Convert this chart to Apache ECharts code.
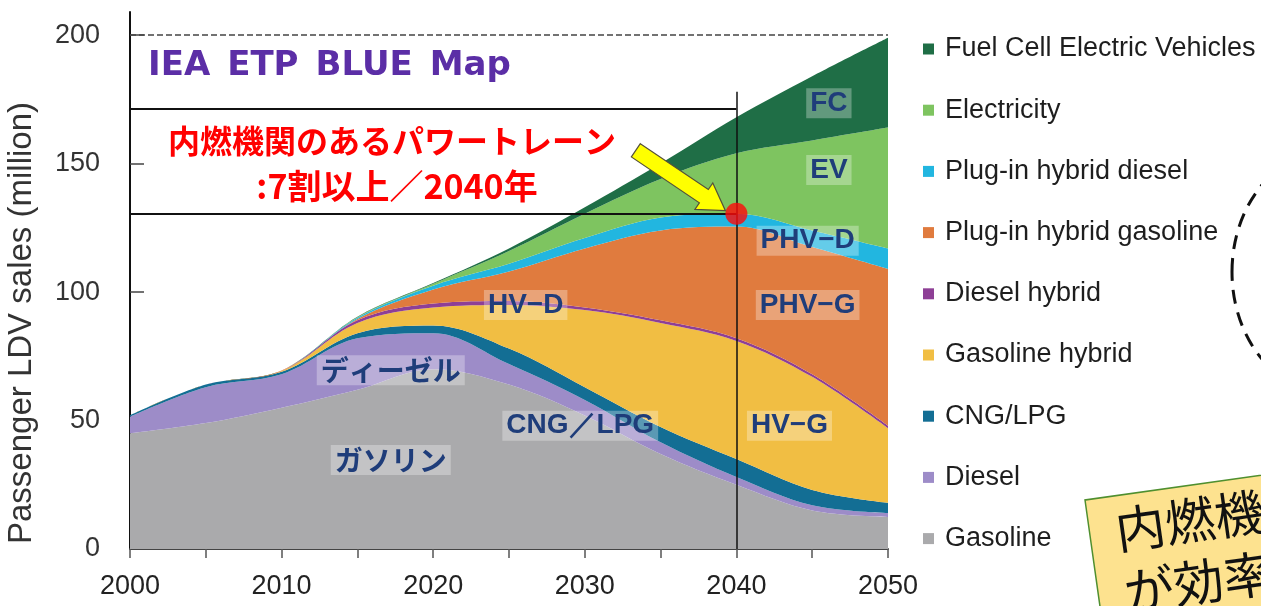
<!DOCTYPE html>
<html>
<head>
<meta charset="utf-8">
<script src="https://cdn.jsdelivr.net/npm/echarts@6/dist/echarts.min.js"></script>
<style>
  html, body { margin: 0; padding: 0; background: #ffffff; }
  #chart { width: 1261px; height: 606px; }
</style>
</head>
<body>
<div id="chart"></div>
<script>
// Passenger LDV sales by powertrain (million), IEA ETP BLUE Map scenario
const years = ['2000', '2005', '2010', '2015', '2020', '2025', '2030', '2035', '2040', '2045', '2050'];
const gasoline       = [45, 49, 55, 62, 70, 64, 52, 37, 25, 15, 12.5];
const diesel         = [6.5, 14, 13, 20, 14, 8, 6, 4.5, 3, 2, 1.5];
const cngLpg         = [0.5, 1, 1, 2, 3, 6, 5, 6, 7, 6, 4];
const gasolineHybrid = [0, 0, 0.3, 4, 7, 17, 30, 40.5, 46, 44, 29];
const dieselHybrid   = [0, 0, 0, 1, 1.5, 1.5, 1, 1, 1, 1, 1];
const phvGasoline    = [0, 0, 0.2, 0.5, 5.5, 11.5, 23, 35, 43.5, 49.5, 61];
const phvDiesel      = [0, 0, 0, 0.5, 1.5, 3, 4, 5, 5, 6.5, 8];
const electricity    = [0, 0, 0, 0.2, 0.7, 5, 9.5, 15, 23.5, 35, 47];
const fuelCell       = [0, 0, 0, 0.2, 0.3, 1, 2.5, 6, 14, 25, 35];

const yTicks = [0, 50, 100, 150, 200];

// series listed bottom-to-top of the stack
const layers = [
  { name: 'Gasoline',                    values: gasoline,       color: '#aaaaac' },
  { name: 'Diesel',                      values: diesel,         color: '#9d8cc8' },
  { name: 'CNG/LPG',                     values: cngLpg,         color: '#136e94' },
  { name: 'Gasoline hybrid',             values: gasolineHybrid, color: '#f1be43' },
  { name: 'Diesel hybrid',               values: dieselHybrid,   color: '#8e3f96' },
  { name: 'Plug-in hybrid gasoline',     values: phvGasoline,    color: '#e07b3e' },
  { name: 'Plug-in hybrid diesel',       values: phvDiesel,      color: '#22b6e0' },
  { name: 'Electricity',                 values: electricity,    color: '#7ec460' },
  { name: 'Fuel Cell Electric Vehicles', values: fuelCell,       color: '#1f6e46' }
];
const legendOrder = layers.map(l => l.name).reverse();

// 2040 share marker sits on top of the plug-in hybrid diesel layer
const markYear = '2040';
const mi = years.indexOf(markYear);
const markValue = layers.slice(0, 7).reduce((s, l) => s + l.values[mi], 0);

// reference frame lines of the annotation
const frameTop = 171.5;
const guideTop = 178;

// area tags: [text, year, value, isJapanese]
const tags = [
  ['FC', 2046.1, 173.5, false],
  ['EV', 2046.1, 147.5, false],
  ['PHV\u2212D', 2044.7, 120, false],
  ['PHV\u2212G', 2044.7, 95, false],
  ['HV\u2212D', 2026.1, 95, false],
  ['ディーゼル', 2017.2, 69.6, true],
  ['CNG\uFF0FLPG', 2029.7, 48, false],
  ['HV\u2212G', 2043.5, 48, false],
  ['ガソリン', 2017.2, 34.6, true]
];

const chart = echarts.init(document.getElementById('chart'), null, { renderer: 'canvas' });

const series = layers.map(l => ({
  name: l.name,
  type: 'line',
  stack: 'total',
  smooth: 0.35,
  symbol: 'none',
  lineStyle: { width: 0 },
  itemStyle: { color: l.color },
  areaStyle: { color: l.color, opacity: 1 },
  data: l.values
}));

series.push({
  name: 'guides',
  type: 'line',
  data: [],
  silent: true,
  markLine: {
    silent: true,
    symbol: 'none',
    label: { show: false },
    lineStyle: { color: '#111', width: 2, type: 'solid' },
    data: [
      [{ coord: ['2000', 200], lineStyle: { type: 'dashed', color: '#444', width: 1.5 } }, { coord: ['2050', 200] }],
      [{ coord: ['2000', frameTop] }, { coord: [markYear, frameTop] }],
      [{ coord: ['2000', markValue] }, { coord: [markYear, markValue] }],
      [{ coord: [markYear, 0], lineStyle: { width: 1.5 } }, { coord: [markYear, guideTop] }]
    ]
  }
});

series.push({
  name: 'mark',
  type: 'scatter',
  z: 10,
  symbolSize: 22,
  itemStyle: { color: '#ff0a0a' },
  data: [[markYear, markValue]]
});

chart.setOption({
  animation: false,
  backgroundColor: '#ffffff',
  grid: { left: 130, right: 373, top: 12, bottom: 57, containLabel: false },
  legend: {
    data: legendOrder,
    orient: 'vertical',
    left: 918,
    top: 29,
    icon: 'rect',
    itemWidth: 11,
    itemHeight: 11,
    itemGap: 31.2,
    selectedMode: false,
    textStyle: { fontFamily: 'Liberation Sans', fontSize: 27, color: '#1e1e1e', lineHeight: 30, padding: [0, 0, 0, 6] }
  },
  xAxis: {
    type: 'category',
    data: years,
    boundaryGap: false,
    axisLine: { show: true, lineStyle: { color: '#444', width: 2 } },
    axisTick: { show: true, interval: 0, length: 9, lineStyle: { color: '#555', width: 1.5 } },
    axisLabel: { interval: 1, fontFamily: 'Liberation Sans', fontSize: 27, color: '#222', margin: 24 },
    splitLine: { show: false }
  },
  yAxis: {
    type: 'value',
    min: 0,
    max: 209,
    interval: 50,
    axisLine: { show: true, lineStyle: { color: '#111', width: 2 } },
    axisTick: { show: true, inside: true, length: 14, customValues: yTicks, lineStyle: { color: '#444', width: 1.5 } },
    axisLabel: { customValues: yTicks, fontFamily: 'Liberation Sans', fontSize: 27, color: '#333', margin: 30 },
    splitLine: { show: false }
  },
  series: series
});

// pixel position for a (possibly fractional) year and a value
const x0 = chart.convertToPixel({ gridIndex: 0 }, [years[0], 0]);
const x1 = chart.convertToPixel({ gridIndex: 0 }, [years[years.length - 1], 0]);
function px(year, v) {
  const t = (year - Number(years[0])) / (Number(years[years.length - 1]) - Number(years[0]));
  const y = chart.convertToPixel({ gridIndex: 0 }, [years[0], v])[1];
  return [x0[0] + t * (x1[0] - x0[0]), y];
}

const graphics = [];

// axis title
graphics.push({
  type: 'text', x: 22, y: 323, rotation: Math.PI / 2,
  style: { text: 'Passenger LDV sales (million)', font: '33px "Liberation Sans"', fill: '#333', align: 'center', verticalAlign: 'middle' }
});

// scenario title (en spaces give the wider word gaps)
graphics.push({
  type: 'text', x: 148, y: 66,
  style: { text: 'IEA\u2002ETP\u2002BLUE\u2002Map', font: 'bold 34px "DejaVu Sans"', fill: '#5b2ea6', align: 'left', verticalAlign: 'middle', letterSpacing: 5 }
});

// red callout
graphics.push({
  type: 'text', x: 392, y: 141,
  style: { text: '内燃機関のあるパワートレーン', font: 'bold 32px "Noto Sans CJK JP"', fill: '#ff0000', align: 'center', verticalAlign: 'middle' }
});
graphics.push({
  type: 'text', x: 397, y: 186,
  style: { text: ':7割以上／2040年', font: 'bold 34px "Noto Sans CJK JP"', fill: '#ff0000', align: 'center', verticalAlign: 'middle', letterSpacing: 3 }
});

// yellow arrow pointing at the 2040 marker
const dot = chart.convertToPixel({ gridIndex: 0 }, [markYear, markValue]);
const ang = Math.atan2(60, 89);
const L = 108;
const tipX = dot[0] - 11, tipY = dot[1] - 3;
const tailX = tipX - L * Math.cos(ang), tailY = tipY - L * Math.sin(ang);
graphics.push({
  type: 'polygon', x: tailX, y: tailY, rotation: -ang, z: 20,
  shape: { points: [[0, -8], [L - 26, -8], [L - 26, -16], [L, 0], [L - 26, 16], [L - 26, 8], [0, 8]] },
  style: { fill: '#ffff00', stroke: '#55503a', lineWidth: 1.2 }
});

// area tags
tags.forEach(t => {
  const p = px(t[1], t[2]);
  graphics.push({
    type: 'text', x: p[0], y: p[1], z: 15,
    style: {
      text: t[0],
      font: t[3] ? 'bold 28px "Noto Sans CJK JP"' : 'bold 28px "Liberation Sans"',
      fill: '#1f3d7a', align: 'center', verticalAlign: 'middle',
      backgroundColor: 'rgba(255,255,255,0.3)', padding: [1, 4]
    }
  });
});

// dashed ellipse at right edge
graphics.push({
  type: 'ellipse',
  shape: { cx: 1332, cy: 272, rx: 100, ry: 122 },
  style: { fill: 'none', stroke: '#111', lineWidth: 3, lineDash: [14, 9] }
});

// note card, slightly tilted
graphics.push({
  type: 'group', x: 1085, y: 500, rotation: 0.14, z: 30,
  children: [
    { type: 'rect', shape: { x: 0, y: 0, width: 330, height: 230 }, style: { fill: '#fde28f', stroke: '#4f8f2f', lineWidth: 1.5 } },
    { type: 'text', x: 26, y: 10, style: { text: '内燃機関', font: '50px "Noto Sans CJK JP"', fill: '#111' } },
    { type: 'text', x: 26, y: 72, style: { text: 'が効率', font: '50px "Noto Sans CJK JP"', fill: '#111' } }
  ]
});

chart.setOption({ graphic: graphics });
</script>
</body>
</html>
